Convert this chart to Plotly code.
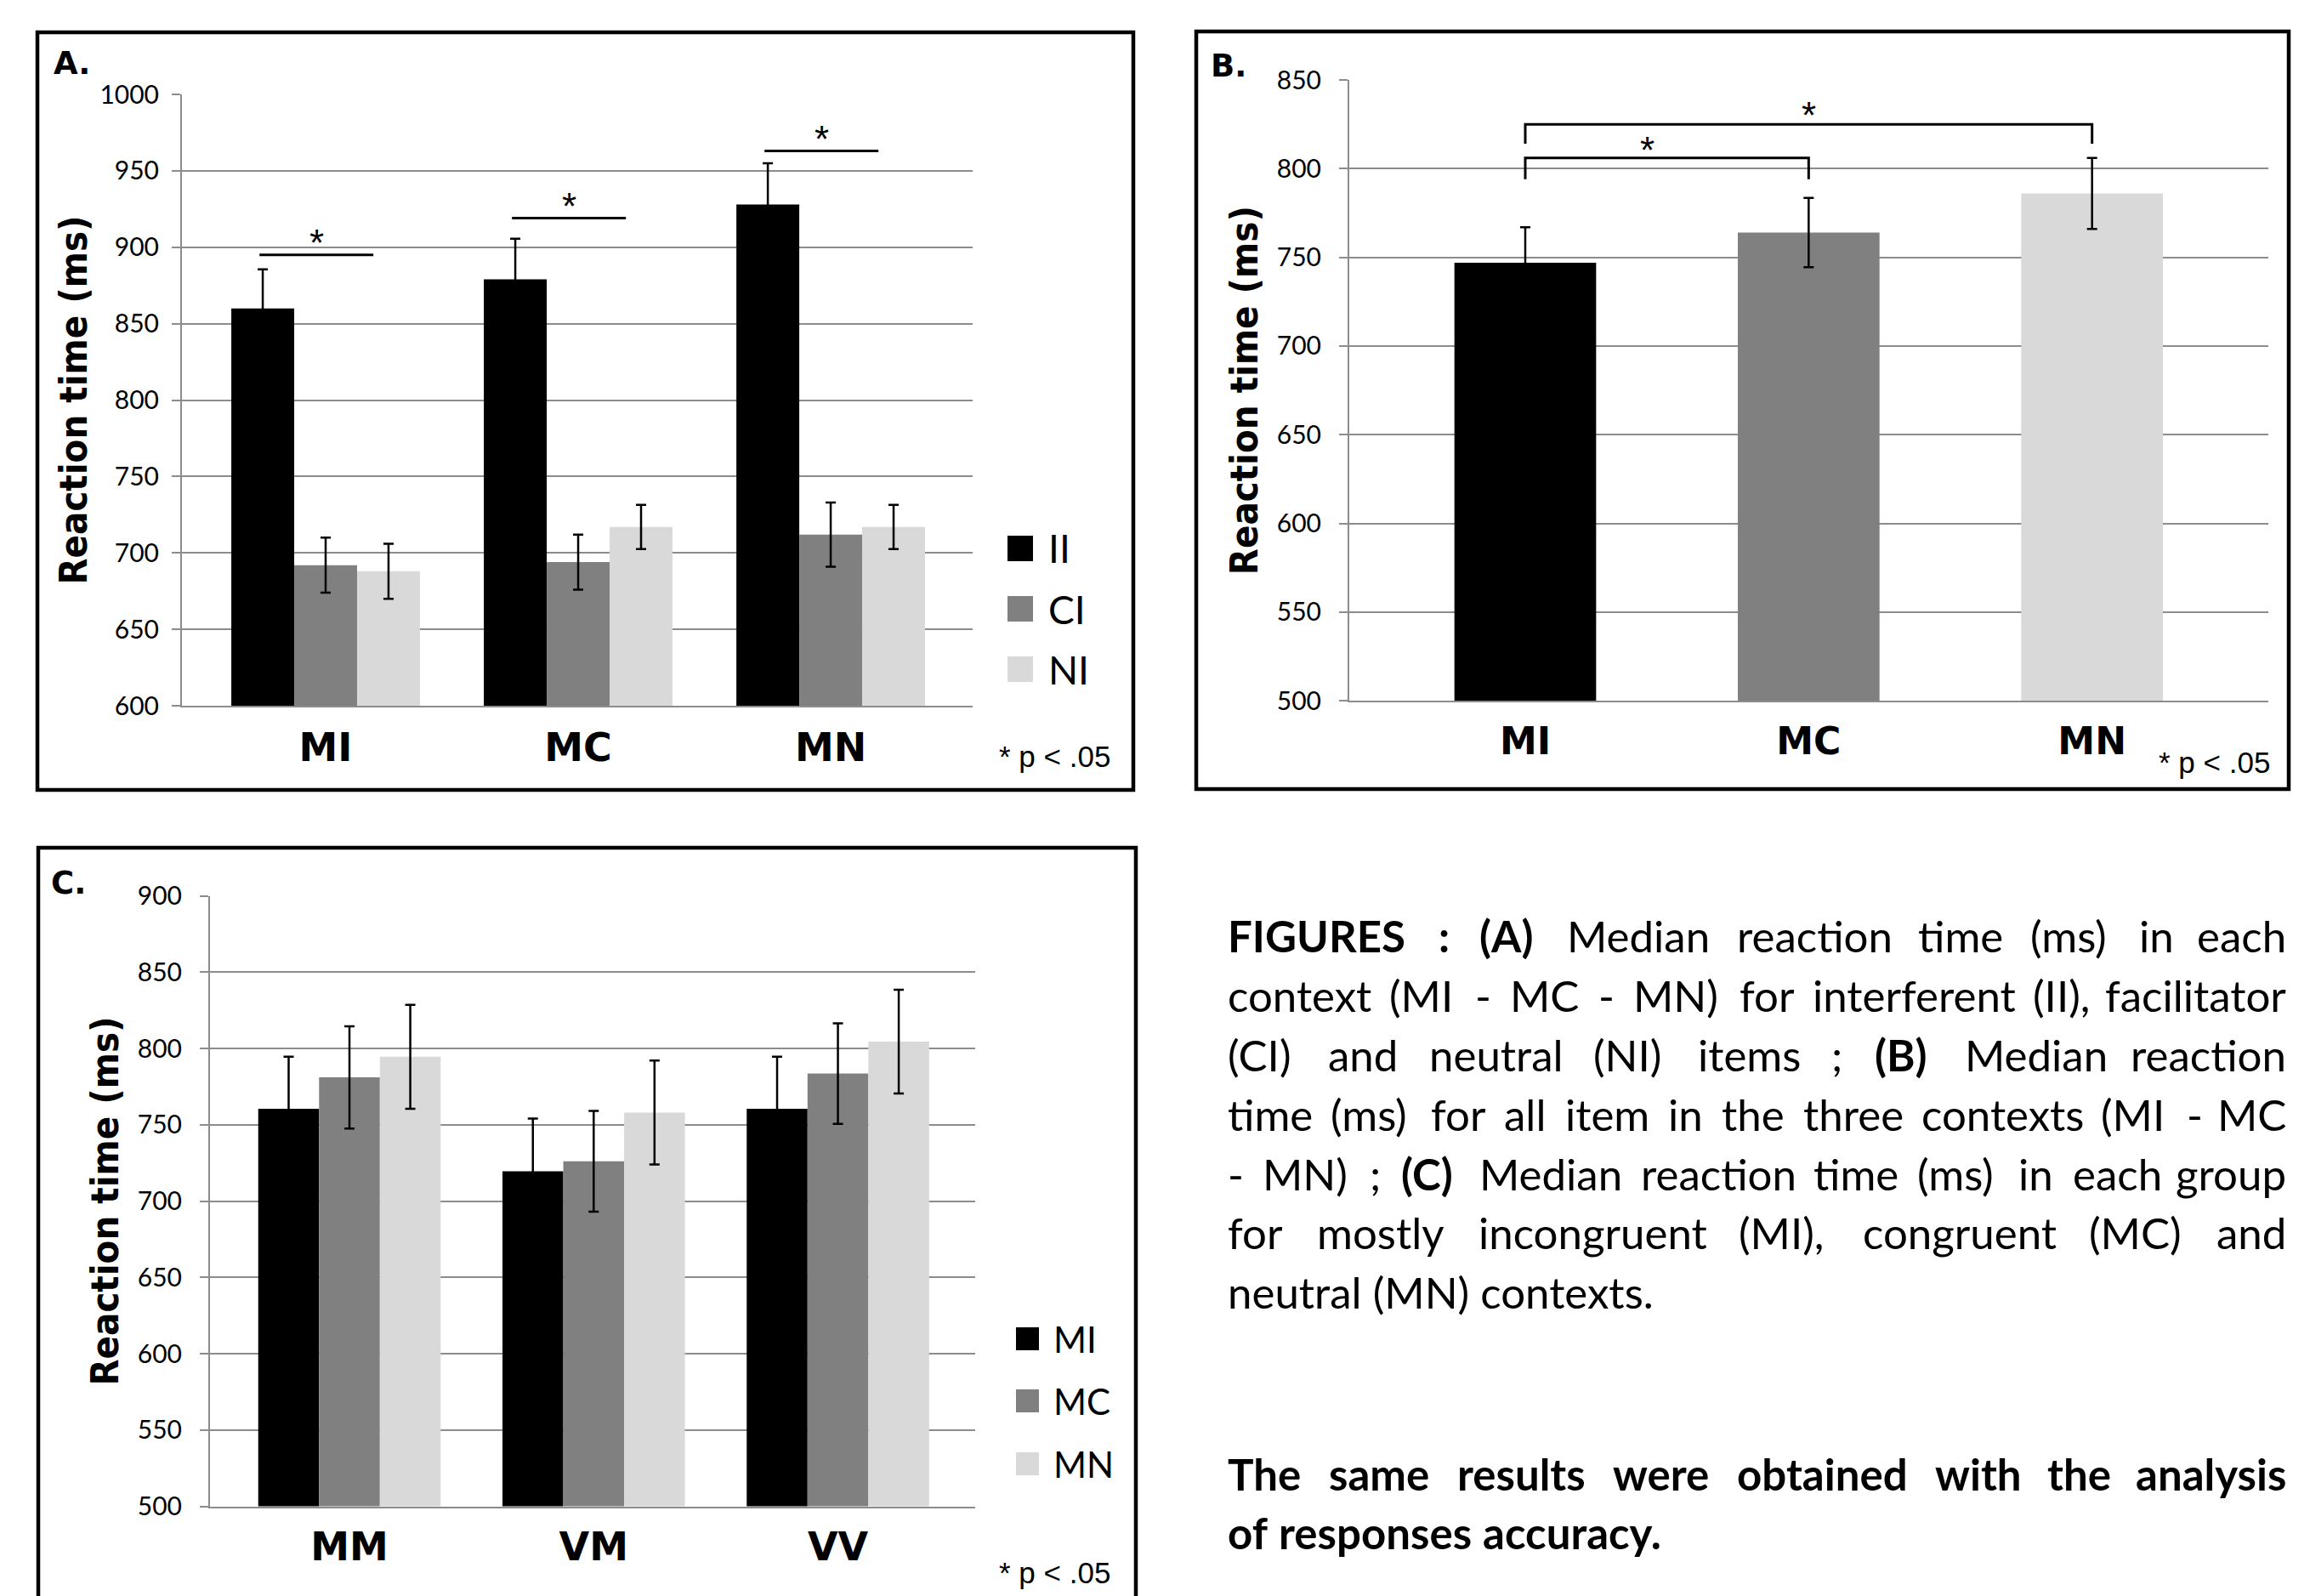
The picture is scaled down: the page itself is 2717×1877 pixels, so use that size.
import plotly.graph_objects as go

# page body has an 8px margin; the figure is shrunk and content offset accordingly
OX, OY = 8, 8
W, H = 2717 - OX, 1877 - OY

# ---------------- data ----------------
# Panel A
a_categories = ["MI", "MC", "MN"]
a_series = ["II", "CI", "NI"]
a_II = [860, 879, 928]
a_CI = [692, 694, 712]
a_NI = [688, 717, 717]
a_II_err = [25.5, 26.5, 27]
a_CI_err = [18, 18, 21]
a_NI_err = [18, 14.5, 14.5]
a_sig_y = [895, 919, 963]
a_yrange = [600, 1000]

# Panel B
b_categories = ["MI", "MC", "MN"]
b_values = [747, 764, 786]
b_err = [20, 19.5, 20]
b_pairs = [[0, 1], [0, 2]]
b_pair_top = [806, 825]
b_pair_drop = [794, 814]
b_star_x = [0.43, 1.0]
b_yrange = [500, 850]

# Panel C
c_categories = ["MM", "VM", "VV"]
c_series = ["MI", "MC", "MN"]
c_MI = [760.5, 719.5, 760.5]
c_MC = [781, 726, 783.5]
c_MN = [794.5, 758, 804.5]
c_MI_err = [34, 34.5, 34]
c_MC_err = [33.5, 33, 33]
c_MN_err = [34, 34, 34]
c_yrange = [500, 900]

tick_step = 50
series_colors = ["#000000", "#808080", "#d9d9d9"]
y_title = "Reaction time (ms)"
p_note = "* p < .05"

caption_lines = [
    ("*FIGURES *: *(A) Median reaction time (ms) in each", True),
    ("context (MI - MC - MN) for interferent (II), facilitator", True),
    ("(CI) and neutral (NI) items ; *(B) Median reaction", True),
    ("time (ms) for all item in the three contexts (MI - MC", True),
    ("- MN) ; *(C) Median reaction time (ms) in each group", True),
    ("for mostly incongruent (MI), congruent (MC) and", True),
    ("neutral (MN) contexts.", False),
    ("*The *same *results *were *obtained *with *the *analysis", True),
    ("*of *responses *accuracy.", False),
]

# ---------------- helpers ----------------
GRID = "#8c8c8c"
FONT_TXT = "Lato, 'Open Sans', sans-serif"
FONT_TITLE = "'DejaVu Sans Condensed', 'DejaVu Sans', sans-serif"
FONT_CAT = "'DejaVu Sans', sans-serif"
FONT_NOTE = "'Liberation Sans', Arial, sans-serif"


def px(xp):
    return (xp - OX) / W


def py(yp):
    return 1 - (yp - OY) / H


fig = go.Figure()

BW = 0.249
offsets = [-1.5 * BW, -0.5 * BW, 0.5 * BW]

# Panel A bars
xa = list(range(len(a_categories)))
for i, (name, vals, errs) in enumerate(zip(a_series, [a_II, a_CI, a_NI],
                                           [a_II_err, a_CI_err, a_NI_err])):
    fig.add_trace(go.Bar(
        x=xa, y=vals, name=name, width=BW, offset=offsets[i],
        marker=dict(color=series_colors[i], line=dict(width=0)),
        error_y=dict(type="data", array=errs, color="black", thickness=2.5, width=6),
        xaxis="x", yaxis="y", showlegend=False))

# Panel B bars
xb = list(range(len(b_categories)))
fig.add_trace(go.Bar(
    x=xb, y=b_values, name="all items", width=0.5, offset=-0.25,
    marker=dict(color=series_colors, line=dict(width=0)),
    error_y=dict(type="data", array=b_err, color="black", thickness=2.5, width=6),
    xaxis="x2", yaxis="y2", showlegend=False))

# Panel C bars
xc = list(range(len(c_categories)))
for i, (name, vals, errs) in enumerate(zip(c_series, [c_MI, c_MC, c_MN],
                                           [c_MI_err, c_MC_err, c_MN_err])):
    fig.add_trace(go.Bar(
        x=xc, y=vals, name=name, width=BW, offset=offsets[i],
        marker=dict(color=series_colors[i], line=dict(width=0)),
        error_y=dict(type="data", array=errs, color="black", thickness=2.5, width=6),
        xaxis="x3", yaxis="y3", showlegend=False))


def yax(domain, rng, anchor, standoff, label_standoff):
    return dict(
        domain=domain, range=rng, dtick=tick_step, tick0=0, anchor=anchor,
        showgrid=True, gridcolor=GRID, gridwidth=2,
        showline=True, linecolor=GRID, linewidth=2,
        ticks="outside", ticklen=10, tickwidth=2, tickcolor=GRID,
        tickfont=dict(family=FONT_TXT, size=30, color="black"),
        ticklabelstandoff=label_standoff,
        zeroline=False, automargin=False, fixedrange=True,
        title=dict(text="<b>" + y_title + "</b>",
                   font=dict(family=FONT_TITLE, size=45, color="black"),
                   standoff=standoff))


def xax(domain, rng, anchor, cats, size, standoff):
    return dict(
        domain=domain, range=rng, anchor=anchor,
        tickmode="array", tickvals=list(range(len(cats))),
        ticktext=["<b>" + c + "</b>" for c in cats],
        tickfont=dict(family=FONT_CAT, size=size, color="black"),
        showgrid=False, zeroline=False, showline=True, linecolor=GRID, linewidth=2,
        ticks="", automargin=False, fixedrange=True, ticklabelstandoff=standoff)


fig.update_layout(
    width=W, height=H, margin=dict(l=0, r=0, t=0, b=0),
    paper_bgcolor="white", plot_bgcolor="white",
    barmode="overlay", template="none",
    xaxis=xax([px(214), px(1144)], [-0.569, 2.562], "y", a_categories, 46, 8),
    yaxis=yax([py(830), py(111)], a_yrange, "x", 1, 9),
    xaxis2=xax([px(1587), px(2668)], [-0.621, 2.622], "y2", b_categories, 44, 8),
    yaxis2=yax([py(824.3), py(94)], b_yrange, "x2", 8, 15),
    xaxis3=xax([px(247), px(1147)], [-0.571, 2.562], "y3", c_categories, 46, 6),
    yaxis3=yax([py(1771.5), py(1053.5)], c_yrange, "x3", 8, 15),
)

shapes = []
annotations = []

# panel frames
for x0, y0, x1, y1 in [(44, 38, 1333, 929), (1407, 37, 2692, 928), (45, 997, 1336, 1895)]:
    shapes.append(dict(type="rect", xref="paper", yref="paper",
                       x0=px(x0), x1=px(x1), y0=py(y1), y1=py(y0),
                       line=dict(color="black", width=4.5), fillcolor="rgba(0,0,0,0)"))

# panel letters
for txt, cx, cy in [("A.", 84, 75), ("B.", 1445, 77), ("C.", 80, 1038)]:
    annotations.append(dict(text="<b>" + txt + "</b>", x=px(cx), y=py(cy), xref="paper", yref="paper",
                            showarrow=False, xanchor="center", yanchor="middle",
                            font=dict(family=FONT_CAT, size=37, color="black")))

# p-notes
for cx, cy in [(1240, 889), (2604, 896), (1240, 1849)]:
    annotations.append(dict(text=p_note, x=px(cx), y=py(cy), xref="paper", yref="paper",
                            showarrow=False, xanchor="center", yanchor="middle",
                            font=dict(family=FONT_NOTE, size=35, color="black")))

# Panel A significance lines
for i, yv in enumerate(a_sig_y):
    shapes.append(dict(type="line", xref="x", yref="y", x0=i - 0.262, x1=i + 0.189,
                       y0=yv, y1=yv, line=dict(color="black", width=3)))
    annotations.append(dict(text="*", x=i - 0.036, y=yv, xref="x", yref="y", showarrow=False,
                            xanchor="center", yanchor="middle", yshift=14,
                            font=dict(family=FONT_NOTE, size=44, color="black")))

# Panel B brackets
for (i0, i1), top, drop, sx, ys in zip(b_pairs, b_pair_top, b_pair_drop, b_star_x, [9, 11]):
    shapes.append(dict(type="path", xref="x2", yref="y2",
                       path=f"M {i0},{drop} L {i0},{top} L {i1},{top} L {i1},{drop}",
                       line=dict(color="black", width=3)))
    annotations.append(dict(text="*", x=sx, y=top, xref="x2", yref="y2", showarrow=False,
                            xanchor="center", yanchor="middle", yshift=ys,
                            font=dict(family=FONT_NOTE, size=44, color="black")))

# Manual legends
legend_specs = [
    (a_series, 1185, 30, [645, 716, 787], 1231, 46),
    (c_series, 1195, 27, [1574.5, 1647.5, 1721.5], 1237, 42),
]
for names, lx, sz, ys, tx, fs in legend_specs:
    for i, (nm, yc) in enumerate(zip(names, ys)):
        shapes.append(dict(type="rect", xref="paper", yref="paper",
                           x0=px(lx), x1=px(lx + sz), y0=py(yc + sz / 2), y1=py(yc - sz / 2),
                           fillcolor=series_colors[i], line=dict(width=0)))
        annotations.append(dict(text=nm, x=px(tx), y=py(yc), xref="paper", yref="paper",
                                showarrow=False, xanchor="left", yanchor="middle",
                                font=dict(family=FONT_TXT, size=fs, color="black")))

# Caption (justified by word placement)
LW = {' ': 0.193, 'a': 0.49, 'b': 0.55, 'c': 0.46, 'd': 0.55, 'e': 0.51, 'f': 0.32, 'g': 0.50,
      'h': 0.55, 'i': 0.23, 'j': 0.23, 'k': 0.49, 'l': 0.23, 'm': 0.83, 'n': 0.55, 'o': 0.55,
      'p': 0.55, 'q': 0.55, 'r': 0.36, 's': 0.42, 't': 0.35, 'u': 0.55, 'v': 0.50, 'w': 0.76,
      'x': 0.49, 'y': 0.50, 'z': 0.44, 'A': 0.68, 'B': 0.65, 'C': 0.67, 'E': 0.57, 'F': 0.55,
      'G': 0.72, 'I': 0.29, 'M': 0.92, 'N': 0.76, 'R': 0.63, 'S': 0.51, 'T': 0.58, 'U': 0.73,
      '(': 0.30, ')': 0.30, '-': 0.33, ':': 0.25, ';': 0.25, ',': 0.22, '.': 0.22}
CAP_SIZE = 51
CAP_L, CAP_R = 1442, 2691
cap_y = [1100, 1170, 1240, 1310, 1380, 1449, 1519, 1733, 1802]


def wwidth(w, bold):
    return sum(LW.get(ch, 0.5) for ch in w) * CAP_SIZE * (1.05 if bold else 1.0)


for (line, justify), yc in zip(caption_lines, cap_y):
    words = [(w[1:], True) if w.startswith("*") else (w, False) for w in line.split()]
    if justify:
        widths = [wwidth(w, b) for w, b in words]
        gap = (CAP_R - CAP_L - sum(widths)) / (len(words) - 1)
        x = CAP_L
        for k, ((w, b), ww) in enumerate(zip(words, widths)):
            last = k == len(words) - 1
            annotations.append(dict(text=("<b>" + w + "</b>") if b else w,
                                    x=px(CAP_R if last else x), y=py(yc),
                                    xref="paper", yref="paper", showarrow=False,
                                    xanchor="right" if last else "left", yanchor="middle",
                                    font=dict(family=FONT_TXT, size=CAP_SIZE, color="black")))
            x += ww + gap
    else:
        txt = " ".join(("<b>" + w + "</b>") if b else w for w, b in words)
        annotations.append(dict(text=txt, x=px(CAP_L), y=py(yc), xref="paper", yref="paper",
                                showarrow=False, xanchor="left", yanchor="middle",
                                font=dict(family=FONT_TXT, size=CAP_SIZE, color="black")))

fig.update_layout(shapes=shapes, annotations=annotations)
fig.write_html("out.html")
